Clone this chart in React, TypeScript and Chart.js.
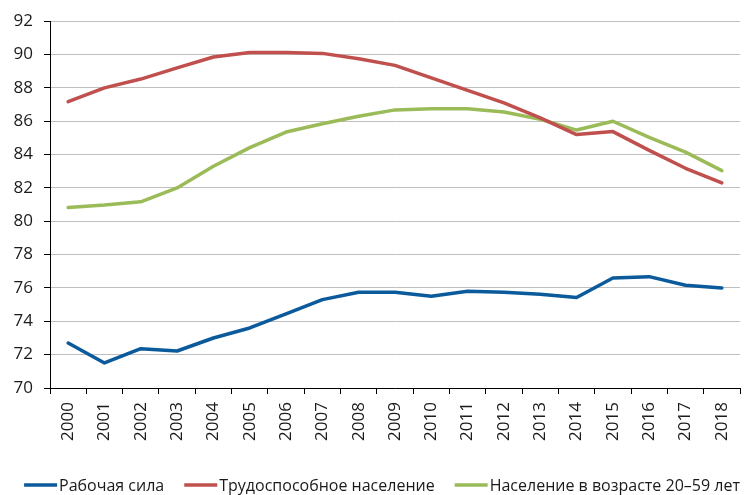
import React, { useEffect, useRef } from "react";
import { Chart, registerables } from "chart.js";

Chart.register(...registerables);

const years = ["2000","2001","2002","2003","2004","2005","2006","2007","2008","2009","2010","2011","2012","2013","2014","2015","2016","2017","2018"];
const labourForce = [72.7,71.5,72.36,72.22,73.0,73.6,74.45,75.3,75.74,75.74,75.5,75.8,75.75,75.62,75.43,76.6,76.68,76.16,76.0];
const workingAge = [87.17,88.0,88.53,89.2,89.85,90.12,90.12,90.07,89.75,89.35,88.6,87.85,87.1,86.2,85.2,85.38,84.25,83.18,82.3];
const age20to59 = [80.82,80.97,81.17,82.0,83.3,84.42,85.35,85.85,86.3,86.68,86.75,86.75,86.55,86.12,85.47,86.0,85.03,84.15,83.04];
const seriesNames = ["Рабочая сила","Трудоспособное население","Население в возрасте 20–59 лет"];
const seriesColors = ["#0b5a9c","#c0504d","#9bbb59"];
const yMin = 70;
const yMax = 92;
const yStep = 2;

const FONT = "'Open Sans', 'Noto Sans', sans-serif";

const legendPlugin = {
  id: "customLegend",
  afterDraw(chart: any) {
    const ctx = chart.ctx as CanvasRenderingContext2D;
    ctx.save();
    ctx.font = `16px ${FONT}`;
    const lineLen = 33;
    const gap = 2;
    const spacing = 20;
    const widths = seriesNames.map((n) => ctx.measureText(n).width);
    const total = widths.reduce((a, w) => a + lineLen + gap + w, 0) + spacing * (seriesNames.length - 1);
    let x = (chart.width - total) / 2 + 4;
    const y = 485;
    ctx.textBaseline = "middle";
    ctx.textAlign = "left";
    seriesNames.forEach((n, i) => {
      ctx.strokeStyle = seriesColors[i];
      ctx.lineWidth = 3.5;
      ctx.beginPath();
      ctx.moveTo(x, y);
      ctx.lineTo(x + lineLen, y);
      ctx.stroke();
      ctx.fillStyle = "#1a1a1a";
      ctx.fillText(n, x + lineLen + gap, y + 1);
      x += lineLen + gap + widths[i] + spacing;
    });
    ctx.restore();
  },
};

export default function App() {
  const ref = useRef<HTMLCanvasElement | null>(null);
  useEffect(() => {
    document.body.style.margin = "0";
    const dataSets = [labourForce, workingAge, age20to59];
    const chart = new Chart(ref.current as HTMLCanvasElement, {
      type: "line",
      data: {
        labels: years,
        datasets: dataSets.map((d, i) => ({
          label: seriesNames[i],
          data: d,
          borderColor: seriesColors[i],
          backgroundColor: seriesColors[i],
          borderWidth: 3.5,
          pointRadius: 0,
          tension: 0,
          fill: false,
          borderCapStyle: "round" as const,
          borderJoinStyle: "round" as const,
        })),
      },
      options: {
        responsive: false,
        animation: false,
        devicePixelRatio: 1,
        layout: { padding: { left: 0, right: 16, top: 10, bottom: 47 } },
        plugins: { legend: { display: false }, tooltip: { enabled: false } },
        scales: {
          x: {
            offset: true,
            grid: { display: true, drawOnChartArea: false, drawTicks: true, tickLength: 6, tickColor: "#000", offset: true },
            border: { display: true, color: "#000", width: 1 },
            ticks: { minRotation: 90, maxRotation: 90, autoSkip: false, padding: 8, color: "#1a1a1a", font: { family: FONT, size: 17 } },
            afterFit(scale: any) { scale.height = 60; },
          },
          y: {
            min: yMin,
            max: yMax,
            grid: { color: "#bfbfbf", lineWidth: 1, tickLength: 6, tickColor: "#000" },
            border: { display: true, color: "#000", width: 1 },
            ticks: { stepSize: yStep, padding: 11, color: "#1a1a1a", font: { family: FONT, size: 17 } },
            afterFit(scale: any) { scale.width = 50; },
          },
        },
      },
      plugins: [legendPlugin],
    });
    return () => chart.destroy();
  }, []);
  return (
    <div style={{ width: 756, height: 495 }}>
      <canvas ref={ref} width={756} height={495} style={{ display: "block" }} />
    </div>
  );
}
